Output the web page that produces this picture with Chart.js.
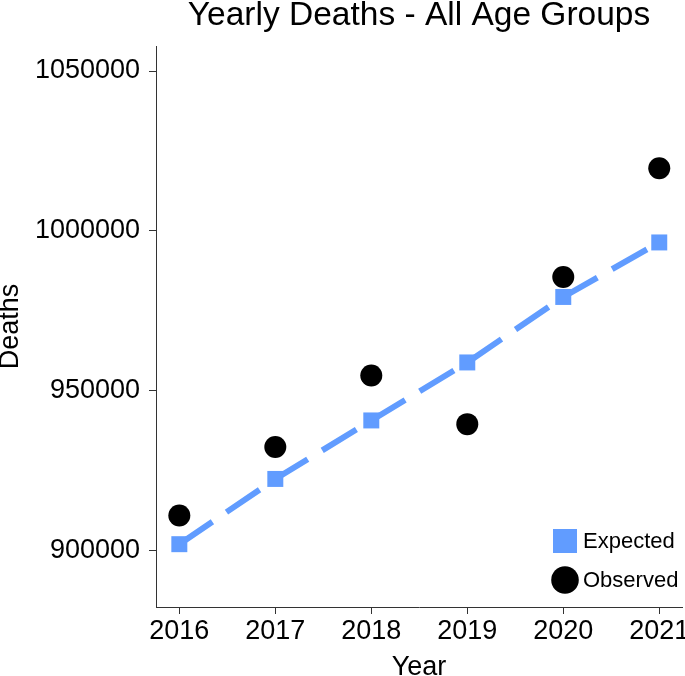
<!DOCTYPE html>
<html><head><meta charset="utf-8">
<script src="https://cdn.jsdelivr.net/npm/chart.js@4"></script>
<style>html,body{margin:0;padding:0;background:#fff}#wrap{width:685px;height:676px;position:relative}</style>
</head><body><div id="wrap"><canvas id="c" width="685" height="676"></canvas></div>
<script>
const years = [2016, 2017, 2018, 2019, 2020, 2021];
const expected = [901900, 922320, 940630, 958780, 979280, 996340];
const observed = [910890, 932330, 954710, 939470, 985540, 1019560];
const yTicks = [900000, 950000, 1000000, 1050000];
const xTicks = [2016, 2017, 2018, 2019, 2020, 2021];
const titleText = 'Yearly Deaths - All Age Groups';
const seriesNames = ['Expected', 'Observed'];
const xTitle = 'Year';
const yTitle = 'Deaths';

const FONT = '"Liberation Sans", Arial, Helvetica, sans-serif';
const BLUE = '#619CFF';
const AXIS = '#333333';
const ZERO_PAD = () => ({left: 0, top: 0, right: 0, bottom: 0});

const titlePlugin = {
  id: 'ggTitle',
  afterDraw(chart) {
    const ctx = chart.ctx, a = chart.chartArea;
    ctx.save();
    ctx.fillStyle = '#000';
    ctx.font = '33.5px ' + FONT;
    ctx.textAlign = 'center';
    ctx.textBaseline = 'alphabetic';
    ctx.fillText(titleText, (a.left + a.right) / 2, 25);
    ctx.restore();
  }
};

const legendPlugin = {
  id: 'ggLegend',
  afterDraw(chart) {
    const ctx = chart.ctx, a = chart.chartArea;
    const kx = a.right - 117;
    const y1 = a.bottom - 66, y2 = a.bottom - 27;
    ctx.save();
    ctx.fillStyle = BLUE;
    ctx.fillRect(kx - 12, y1 - 12, 24, 24);
    ctx.fillStyle = '#000';
    ctx.beginPath();
    ctx.arc(kx, y2, 13.8, 0, Math.PI * 2);
    ctx.fill();
    ctx.font = '22px ' + FONT;
    ctx.textAlign = 'left';
    ctx.textBaseline = 'middle';
    ctx.fillText(seriesNames[0], kx + 18, y1 + 1);
    ctx.fillText(seriesNames[1], kx + 18, y2 + 1);
    ctx.restore();
  }
};

new Chart(document.getElementById('c'), {
  type: 'line',
  data: {
    datasets: [
      {
        label: seriesNames[1],
        data: years.map((y, i) => ({x: y, y: observed[i]})),
        showLine: false,
        pointStyle: 'circle',
        pointRadius: 11,
        pointHoverRadius: 11,
        pointBackgroundColor: '#000',
        pointBorderWidth: 0,
        borderColor: '#000',
        backgroundColor: '#000',
        order: 0
      },
      {
        label: seriesNames[0],
        data: years.map((y, i) => ({x: y, y: expected[i]})),
        showLine: true,
        borderColor: BLUE,
        backgroundColor: BLUE,
        borderWidth: 6,
        borderDash: [40, 17],
        borderCapStyle: 'butt',
        tension: 0,
        pointStyle: 'rect',
        pointRadius: 11.3,
        pointHoverRadius: 11.3,
        pointBackgroundColor: BLUE,
        pointBorderWidth: 0,
        order: 1
      }
    ]
  },
  options: {
    responsive: false,
    devicePixelRatio: 1,
    animation: false,
    events: [],
    layout: {autoPadding: false, padding: {top: 46, right: 3, left: 0, bottom: 0}},
    plugins: {legend: {display: false}, tooltip: {enabled: false}, title: {display: false}},
    scales: {
      x: {
        type: 'linear',
        min: 2015.757,
        max: 2021.237,
        afterBuildTicks: s => { s.ticks = xTicks.map(v => ({value: v})); },
        afterFit: s => { s.height = 69; s.paddingLeft = 0; s.paddingRight = 0; s.getPadding = ZERO_PAD; },
        ticks: {
          callback: v => String(v),
          font: {family: FONT, size: 27},
          color: '#000',
          padding: 1,
          maxRotation: 0,
          autoSkip: false
        },
        grid: {drawOnChartArea: false, drawTicks: true, tickLength: 7, color: AXIS, lineWidth: 1},
        border: {display: true, color: AXIS, width: 1},
        title: {display: true, text: xTitle, color: '#000', font: {family: FONT, size: 27, lineHeight: 1}, padding: {top: 0, bottom: -5}}
      },
      y: {
        type: 'linear',
        min: 882238,
        max: 1057825,
        afterBuildTicks: s => { s.ticks = yTicks.map(v => ({value: v})); },
        afterFit: s => { s.width = 156; s.paddingTop = 0; s.paddingBottom = 0; s.getPadding = ZERO_PAD; },
        ticks: {
          callback: v => String(v),
          font: {family: FONT, size: 27},
          color: '#000',
          padding: 9,
          autoSkip: false
        },
        grid: {drawOnChartArea: false, drawTicks: true, tickLength: 7, color: AXIS, lineWidth: 1},
        border: {display: true, color: AXIS, width: 1},
        title: {display: true, text: yTitle, color: '#000', font: {family: FONT, size: 27, lineHeight: 1}, padding: {top: -2.5, bottom: 0}}
      }
    }
  },
  plugins: [titlePlugin, legendPlugin]
});
</script>
</body></html>
